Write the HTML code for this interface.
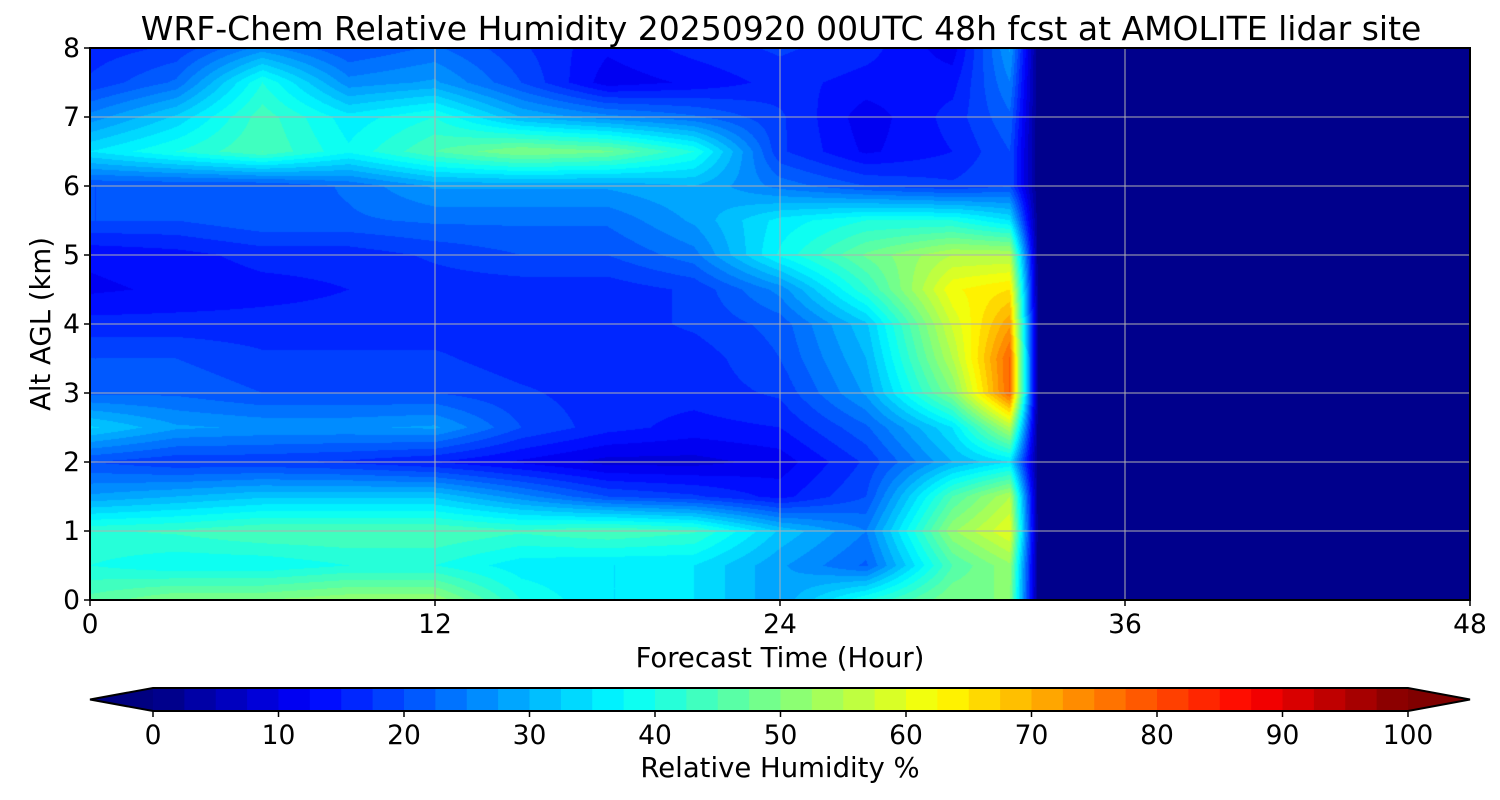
<!DOCTYPE html>
<html><head><meta charset="utf-8"><style>
body{margin:0;background:#fff;width:1500px;height:800px;overflow:hidden;font-family:"Liberation Sans","DejaVu Sans",sans-serif}
#wrap{position:relative;width:1500px;height:800px}
svg text{font-family:"DejaVu Sans","Liberation Sans",sans-serif;fill:#000}
</style></head><body>
<div id="wrap">
<canvas id="cv" width="1380" height="552" style="position:absolute;left:90px;top:48px"></canvas>
<svg id="sv" width="1500" height="800" style="position:absolute;left:0;top:0"></svg>
</div>
<script>
const times=[0,3,6,9,12,15,18,21,24,27,30,32,33,48];
const heights=[0,0.5,1,1.5,2,2.5,3,3.5,4,4.5,5,5.5,6,6.5,7,7.5,8];
const rh=[
[46,50,50,52,52,40,35,35,28,40,50,50,0,0],
[40,38,38,40,40,36,35,35,28,22,45,52,0,0],
[42,43,45,45,45,43,45,43,32,25,52,60,0,0],
[28,30,32,32,32,26,20,18,14,20,45,55,0,0],
[20,18,18,17,15,12,9,9,11,18,30,35,0,0],
[33,28,27,27,28,20,16,14,15,22,35,55,0,0],
[22,22,20,20,20,18,16,16,18,28,50,78,0,0],
[20,20,18,18,18,16,16,16,20,30,55,78,0,0],
[16,16,16,16,16,16,16,18,21,32,58,72,0,0],
[12,13,14,15,16,16,16,18,26,42,62,65,0,0],
[13,14,16,16,18,20,20,24,38,48,55,55,0,0],
[20,20,22,22,23,23,23,28,36,40,40,35,0,0],
[20,20,20,23,28,28,28,30,24,20,18,20,0,0],
[35,40,45,38,45,50,48,40,18,12,15,20,0,0],
[26,33,44,36,40,30,26,23,18,11,16,22,0,0],
[18,23,40,26,28,20,11,13,16,14,14,25,0,0],
[16,18,26,20,23,18,13,16,18,16,11,28,0,0]];
const xTicks=[0,12,24,36,48];
const yTicks=[0,1,2,3,4,5,6,7,8];
const cbTicks=[0,10,20,30,40,50,60,70,80,90,100];

const X0=90,X1=1470,Y0=600,Y1=48;
const xs=t=>X0+(t-0)/(48-0)*(X1-X0);
const ys=h=>Y0+(h-0)/(8-0)*(Y1-Y0);
const CB0=153,CB1=1408,cbx=v=>CB0+v/100*(CB1-CB0);

function jet(v){const x=Math.max(0,Math.min(1,v/100));
 const f=c=>Math.max(0,Math.min(1,1.5-Math.abs(4*x-c)));
 return [f(3),f(2),f(1)].map(c=>Math.round(c*255));}
function seg(arr,v){let i=0;while(i<arr.length-2&&v>arr[i+1])i++;const f=(v-arr[i])/(arr[i+1]-arr[i]);return [i,Math.max(0,Math.min(1,f))];}
function val(t,h){const [i,fx]=seg(times,t),[j,fy]=seg(heights,h);
 const a=rh[j][i],b=rh[j][i+1],c=rh[j+1][i],d=rh[j+1][i+1];
 return (a*(1-fx)+b*fx)*(1-fy)+(c*(1-fx)+d*fx)*fy;}
const cv=document.getElementById('cv'),ctx=cv.getContext('2d');
const img=ctx.createImageData(1380,552);
for(let py=0;py<552;py++){const h=(Y0-(py+48.5))/(Y0-Y1)*8;
 for(let px=0;px<1380;px++){const t=(px+0.5)/1380*48;
  let v=val(t,h);v=Math.floor(v/2.5)*2.5+1.25;const c=jet(v);const k=(py*1380+px)*4;
  img.data[k]=c[0];img.data[k+1]=c[1];img.data[k+2]=c[2];img.data[k+3]=255;}}
ctx.putImageData(img,0,0);

const sv=document.getElementById('sv');const NS='http://www.w3.org/2000/svg';
function el(tag,at,txt){const e=document.createElementNS(NS,tag);for(const k in at)e.setAttribute(k,at[k]);if(txt!==undefined)e.textContent=txt;sv.appendChild(e);return e;}
xTicks.forEach(t=>{const g=el('line',{x1:xs(t),x2:xs(t),y1:Y1,y2:Y0,stroke:'#b0b0b0','stroke-width':1});
 
 el('line',{x1:xs(t),x2:xs(t),y1:Y0,y2:Y0+6,stroke:'#000','stroke-width':1.5});
 const l=el('text',{x:xs(t),y:633,'font-size':26.5,'text-anchor':'middle'},t);
 });
yTicks.forEach(h=>{const g=el('line',{x1:X0,x2:X1,y1:ys(h),y2:ys(h),stroke:'#b0b0b0','stroke-width':1});
 
 el('line',{x1:X0-6,x2:X0,y1:ys(h),y2:ys(h),stroke:'#000','stroke-width':1.5});
 const l=el('text',{x:X0-10,y:ys(h)+9,'font-size':26.5,'text-anchor':'end'},h);
 });
el('rect',{x:X0,y:Y1,width:X1-X0,height:Y0-Y1,fill:'none',stroke:'#000','stroke-width':2,});
el('text',{x:781,y:40,'font-size':33,'text-anchor':'middle',},'WRF-Chem Relative Humidity 20250920 00UTC 48h fcst at AMOLITE lidar site');
el('text',{x:780,y:667,'font-size':27.5,'text-anchor':'middle',},'Forecast Time (Hour)');
el('text',{x:50,y:324,'font-size':27.5,'text-anchor':'middle',transform:'rotate(-90 50 324)',},'Alt AGL (km)');
const cT=688,cB=711,cM=699.5;
for(let v=0;v<100;v+=2.5){const c=jet(v+1.25);const r=el('rect',{x:cbx(v),y:cT,width:cbx(2.5)-cbx(0)+0.6,height:cB-cT,fill:`rgb(${c})`});
 }
el('polygon',{points:`${CB0},${cT} ${CB0},${cB} 90,${cM}`,fill:'rgb(0,0,128)',});
el('polygon',{points:`${CB1},${cT} ${CB1},${cB} 1470,${cM}`,fill:'rgb(128,0,0)',});
el('polygon',{points:`${CB0},${cT} ${CB1},${cT} 1470,${cM} ${CB1},${cB} ${CB0},${cB} 90,${cM}`,fill:'none',stroke:'#000','stroke-width':2,});
cbTicks.forEach(v=>{el('line',{x1:cbx(v),x2:cbx(v),y1:cB,y2:cB+6,stroke:'#000','stroke-width':1.5});
 const l=el('text',{x:cbx(v),y:744,'font-size':26.5,'text-anchor':'middle'},v);
 });
el('text',{x:780,y:777,'font-size':27.5,'text-anchor':'middle',},'Relative Humidity %');
</script>
</body></html>
